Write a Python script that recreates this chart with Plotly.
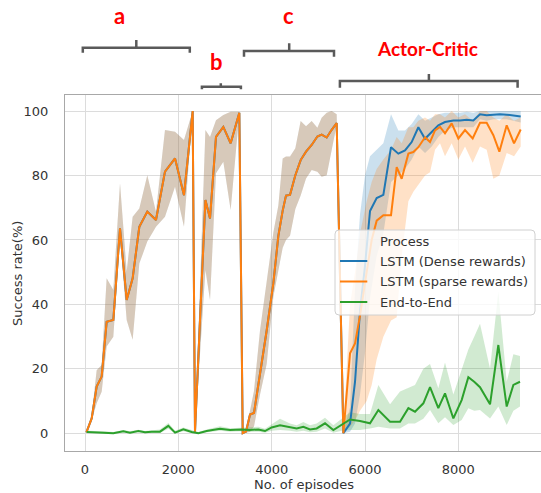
import plotly.graph_objects as go

# ---------------- data ----------------
# phases a, b, c (both LSTM variants share the same curve here)
ep_abc = [30, 143, 250, 357, 464, 607, 750, 893, 1021, 1164, 1335, 1521, 1714, 1929, 2121, 2307,
          2357, 2580, 2679, 2807, 2964, 3121, 3307,
          3379, 3450, 3536, 3621, 3750, 3893, 4036, 4143, 4236, 4307, 4393, 4507, 4621, 4736, 4857,
          4979, 5071, 5179, 5286, 5393]
sr_abc = [0.3, 4.6, 14.5, 17.6, 34.6, 35.2, 63.6, 41.4, 48.1, 64.1, 68.8, 66.2, 81.2, 85.3, 73.9, 100,
          0.5, 72.4, 66.7, 92.0, 95.1, 90.0, 99.5,
          0, 0.5, 5.8, 6.3, 18.3, 31.9, 46.6, 61.3, 69.1, 73.8, 74.0, 80.1, 84.8, 87.4, 89.5,
          92.1, 92.7, 91.8, 94.2, 96.3]
hi_abc = [0.3, 5.5, 19.6, 21.2, 48.1, 44.5, 77.6, 50.2, 67.2, 69.8, 80.1, 68.8, 94.1, 93.6, 91.0, 100,
          0.5, 94.1, 92.0, 97.2, 98.8, 99.8, 99.8,
          0, 0.8, 6.8, 13.1, 31.9, 46.6, 62.3, 70.7, 85.3, 85.9, 85.9, 88.5, 96.9, 95.3, 96.9,
          94.8, 97.9, 99.5, 100, 99.0]
lo_abc = [0.3, 4.0, 9.3, 12.9, 26.9, 30.0, 61.0, 35.2, 29.0, 52.7, 59.5, 64.1, 67.2, 76.5, 64.1, 100,
          0.5, 50.7, 41.4, 80.7, 84.3, 69.3, 99.3,
          0, 0.2, 0.5, 2.1, 12.0, 21.5, 42.4, 50.8, 57.6, 60.0, 61.3, 69.6, 73.8, 79.1, 81.7,
          81.2, 79.6, 80.1, 87.4, 95.8]

# Actor-Critic phase, LSTM (Dense rewards)
ep_dense = [5536, 5679, 5786, 5893, 6000, 6107, 6250, 6393, 6557, 6714, 6857, 7000, 7143, 7286,
            7429, 7571, 7714, 7893, 8036, 8179, 8321, 8464, 8607, 8750, 8893, 9036, 9179, 9336]
sr_dense = [0, 3, 16, 38, 52, 69, 73, 74, 88.8, 86.8, 87.8, 90.4, 95.0, 91.4,
            93.5, 95.6, 96.6, 97.1, 97.1, 97.3, 97.1, 99.0, 98.7, 98.9, 99.0, 98.9, 98.7, 98.3]
hi_dense = [0.5, 8, 45, 68, 80, 86, 88, 90, 99, 94, 94, 96, 99, 97,
            98, 99, 99.5, 99.5, 99.5, 99.8, 99.5, 100, 100, 100, 100, 100, 100, 100]
lo_dense = [0, 0.5, 3, 12, 25, 42, 55, 62, 78, 80, 82, 85, 89, 87,
            89, 92, 94, 95, 95, 95, 95, 97.5, 97, 97.5, 97.5, 97.5, 97, 96.5]

# Actor-Critic phase, LSTM (sparse rewards)
ep_sparse = [5536, 5679, 5786, 5893, 6036, 6143, 6250, 6393, 6557, 6679, 6786, 6929, 7036, 7143,
             7286, 7393, 7500, 7607, 7714, 7857, 8000, 8143, 8307, 8464, 8607, 8750, 8879, 9036,
             9193, 9336]
sr_sparse = [0, 24.8, 27.9, 36.5, 50, 60, 66, 67.7, 67.7, 82.6, 79.0, 86.8, 87.3, 88.8,
             91.9, 90.4, 94.0, 95.1, 93.1, 96.2, 91.5, 94.1, 91.5, 96.4, 96.4, 92.5, 87.4, 95.6,
             90.0, 94.3]
hi_sparse = [0.5, 40, 50, 62, 72, 78, 82, 85, 88, 92, 90, 95, 95, 97,
             98, 97, 99, 99, 98, 100, 98, 99, 97, 100, 100, 98, 97, 99, 97, 98]
lo_sparse = [0, 2, 4, 7, 10, 15, 23, 30, 35, 36, 55, 72, 75, 77,
             80, 81, 88, 90, 86, 90, 85, 89, 84, 89, 88, 79, 80, 87, 86, 89]

# End-to-End
ep_e2e = [36, 214, 393, 607, 821, 964, 1143, 1286, 1429, 1607, 1786, 1929, 2107, 2286, 2429,
          2607, 2893, 3107, 3357, 3536, 3714, 3857, 4000, 4179, 4393,
          4536, 4679, 4821, 4964, 5143, 5321, 5500, 5679, 5893, 6107, 6286, 6536, 6750, 6929,
          7071, 7250, 7393, 7571, 7714, 7893, 8071, 8214, 8340, 8464, 8679, 8857, 9036, 9179, 9321]
sr_e2e = [0.4, 0.4, 0.2, 0, 0.6, 0.2, 0.7, 0.3, 0.5, 0.5, 2.3, 0.2, 1.2, 0.4, 0,
          0.7, 1.4, 1.0, 1.2, 1.0, 1.2, 0.7, 1.8, 2.5, 1.8,
          1.5, 2.0, 1.2, 1.5, 3.1, 1.0, 2.6, 4.3, 3.8, 3.1, 7.2, 3.6, 3.6, 7.8,
          6.7, 9.3, 14.3, 7.8, 12.4, 4.6, 10.3, 17.4, 16.0, 14.3, 9.0, 27.4, 8.3, 15.0, 16.0]
hi_e2e = [0.8, 0.8, 0.6, 0.4, 1.0, 0.6, 1.1, 0.7, 1.0, 1.2, 3.2, 0.8, 1.8, 0.9, 0.4,
          1.2, 2.2, 1.6, 1.8, 1.8, 2.0, 1.4, 2.8, 4.5, 3.0,
          2.5, 3.5, 2.5, 3.0, 4.8, 2.5, 4.5, 6.5, 6.0, 6.0, 15.0, 9.0, 13.0, 14.0,
          15.0, 20.0, 21.5, 14.0, 22.0, 12.0, 20.0, 26.0, 30.0, 34.0, 20.0, 44.0, 16.0, 24.5, 24.0]
lo_e2e = [0.1, 0.1, 0, 0, 0.3, 0, 0.4, 0, 0.2, 0.1, 1.4, 0, 0.6, 0, 0,
          0.3, 0.8, 0.5, 0.6, 0.4, 0.5, 0.2, 0.8, 1.0, 0.8,
          0.5, 0.8, 0.3, 0.5, 1.5, 0.2, 0.8, 1.0, 1.0, 1.5, 2.0, 1.5, 1.5, 3.0,
          3.0, 4.5, 7.2, 3.1, 5.0, 2.6, 4.1, 7.8, 7.0, 7.2, 4.6, 8.3, 2.6, 7.0, 8.3]

series_names = ["LSTM (Dense rewards)", "LSTM (sparse rewards)", "End-to-End"]
legend_title = "Process"
x_title = "No. of episodes"
y_title = "Success rate(%)"
x_ticks = [0, 2000, 4000, 6000, 8000]
y_ticks = [0, 20, 40, 60, 80, 100]
phase_labels = ["a", "b", "c", "Actor-Critic"]

# ---------------- figure ----------------
colors = ["#1f77b4", "#ff7f0e", "#2ca02c"]
bands = ["rgba(31,119,180,0.23)", "rgba(255,127,14,0.23)", "rgba(44,160,44,0.22)"]

series = [
    (ep_abc + ep_dense, sr_abc + sr_dense, hi_abc + hi_dense, lo_abc + lo_dense),
    (ep_abc + ep_sparse, sr_abc + sr_sparse, hi_abc + hi_sparse, lo_abc + lo_sparse),
    (ep_e2e, sr_e2e, hi_e2e, lo_e2e),
]

fig = go.Figure()
for (x, y, hi, lo), band in zip(series, bands):
    fig.add_trace(go.Scatter(x=x + x[::-1], y=hi + lo[::-1], fill="toself", fillcolor=band,
                             line=dict(width=0), mode="lines", hoverinfo="skip", showlegend=False))
for (x, y, hi, lo), c, name in zip(series, colors, series_names):
    fig.add_trace(go.Scatter(x=x, y=y, mode="lines", line=dict(color=c, width=2),
                             name=name, showlegend=False))

W, H = 541, 493
L, R, T, B = 65, 0, 95, 42
PW, PH = W - L - R, H - T - B


def px(X):
    return (X - L) / PW


def py(Y):
    return (H - B - Y) / PH


FONT = "DejaVu Sans"
TXT = "#333333"

shapes = []
# brackets above the plot
brackets = [  # (x1, x2, xtick, y_horizontal, y_tips, y_top)
    (82.8, 189.8, 136.3, 47.7, 52.7, 40.0),
    (201.9, 240.9, 220.8, 86.7, 89.3, 83.3),
    (244.0, 334.0, 289.2, 51.0, 56.7, 43.3),
    (339.9, 517.6, 428.9, 81.0, 87.7, 74.0),
]
for x1, x2, xc, yh, yt, ytop in brackets:
    path = (f"M {px(x1)},{py(yt)} L {px(x1)},{py(yh)} L {px(x2)},{py(yh)} L {px(x2)},{py(yt)} "
            f"M {px(xc)},{py(yh)} L {px(xc)},{py(ytop)}")
    shapes.append(dict(type="path", xref="paper", yref="paper", path=path,
                       line=dict(color="#5a5a5a", width=2.5)))

# legend box (rounded)
lx1, lx2, ly1, ly2, rr = 335, 535, 230, 315, 4
lp = (f"M {px(lx1 + rr)},{py(ly1)} L {px(lx2 - rr)},{py(ly1)} Q {px(lx2)},{py(ly1)} {px(lx2)},{py(ly1 + rr)} "
      f"L {px(lx2)},{py(ly2 - rr)} Q {px(lx2)},{py(ly2)} {px(lx2 - rr)},{py(ly2)} "
      f"L {px(lx1 + rr)},{py(ly2)} Q {px(lx1)},{py(ly2)} {px(lx1)},{py(ly2 - rr)} "
      f"L {px(lx1)},{py(ly1 + rr)} Q {px(lx1)},{py(ly1)} {px(lx1 + rr)},{py(ly1)} Z")
shapes.append(dict(type="path", xref="paper", yref="paper", path=lp, layer="above",
                   fillcolor="rgba(255,255,255,0.8)", line=dict(color="#d0d0d0", width=1)))
item_y = [261, 281.5, 302]
for yy, c in zip(item_y, colors):
    shapes.append(dict(type="line", xref="paper", yref="paper", layer="above",
                       x0=px(340), x1=px(367.3), y0=py(yy), y1=py(yy),
                       line=dict(color=c, width=2)))

annotations = []
annotations.append(dict(x=px(378.3), y=py(241), xref="paper", yref="paper", text=legend_title,
                        showarrow=False, xanchor="left", yanchor="middle",
                        font=dict(family=FONT, size=13, color=TXT)))
for yy, name in zip(item_y, series_names):
    annotations.append(dict(x=px(378.3), y=py(yy), xref="paper", yref="paper", text=name,
                            showarrow=False, xanchor="left", yanchor="middle",
                            font=dict(family=FONT, size=13, color=TXT)))

label_pos = [(119, 16, 22), (216.7, 62, 22), (288.1, 16, 22), (427.9, 48.5, 19)]
for (xx, yy, sz), lab in zip(label_pos, phase_labels):
    annotations.append(dict(x=px(xx), y=py(yy), xref="paper", yref="paper", text=f"<b>{lab}</b>",
                            showarrow=False, xanchor="center", yanchor="middle",
                            font=dict(family="Lato", size=sz, color="#ff0000")))

# axis titles
annotations.append(dict(x=px(303.5), y=py(484), xref="paper", yref="paper", text=x_title,
                        showarrow=False, xanchor="center", yanchor="middle",
                        font=dict(family=FONT, size=13, color=TXT)))
annotations.append(dict(x=px(17.5), y=py(273.5), xref="paper", yref="paper", text=y_title,
                        showarrow=False, xanchor="center", yanchor="middle", textangle=-90,
                        font=dict(family=FONT, size=13, color=TXT)))

fig.update_layout(
    width=W, height=H,
    margin=dict(l=L, r=R, t=T, b=B, autoexpand=False),
    paper_bgcolor="white", plot_bgcolor="white",
    font=dict(family=FONT, size=13, color=TXT),
    shapes=shapes, annotations=annotations,
    showlegend=False,
)
fig.update_xaxes(range=[-428.6, 9771], tickvals=x_ticks, showgrid=True, gridcolor="#dcdcdc",
                 gridwidth=1, zeroline=False, showline=True, mirror=True, linecolor="#a8a8a8",
                 linewidth=1.2, ticks="", ticklabelstandoff=6, automargin=False)
fig.update_yaxes(range=[-5.5, 105], tickvals=y_ticks, showgrid=True, gridcolor="#dcdcdc",
                 gridwidth=1, zeroline=False, showline=True, mirror=False, linecolor="#a8a8a8",
                 linewidth=1.2, ticks="", ticklabelstandoff=13, automargin=False)

fig.write_html("out.html", config={"displayModeBar": False},
               post_script="document.body.style.margin='0';document.body.style.overflow='hidden';")
